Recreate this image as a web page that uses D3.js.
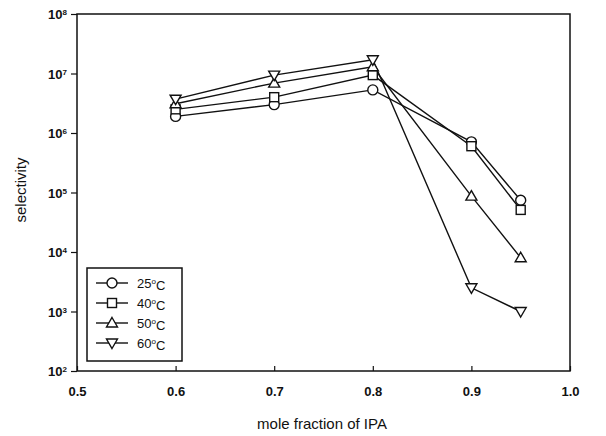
<!DOCTYPE html>
<html><head><meta charset="utf-8">
<script src="https://cdn.jsdelivr.net/npm/d3@7"></script>
<style>body{margin:0;background:#fff}svg{display:block}text{font-family:"Liberation Sans",Arial,sans-serif;fill:#111}</style>
</head><body><svg id="c" width="606" height="436"></svg>
<script>
const xValues = [0.6, 0.7, 0.8, 0.9, 0.95];
const seriesNames = ["25°C", "40°C", "50°C", "60°C"];
const s25 = [1.9e6, 3.0e6, 5.3e6, 7.1e5, 7.4e4];
const s40 = [2.5e6, 4.0e6, 9.4e6, 6.0e5, 5.1e4];
const s50 = [3.1e6, 6.9e6, 1.3e7, 8.7e4, 8.0e3];
const s60 = [3.7e6, 9.4e6, 1.7e7, 2.5e3, 1.0e3];
const xTicks = [0.5, 0.6, 0.7, 0.8, 0.9, 1.0];
const yExps = [2, 3, 4, 5, 6, 7, 8];
const markers = ["circle", "square", "triUp", "triDown"];

const svg = d3.select("#c");
const L = 77, R = 570, T = 14, B = 371;
const x = d3.scaleLinear().domain([0.5, 1.0]).range([L, R]);
const y = d3.scaleLog().domain([1e2, 1e8]).range([B, T]);

svg.append("rect").attr("x", L).attr("y", T).attr("width", R - L).attr("height", B - T)
  .attr("fill", "none").attr("stroke", "#111").attr("stroke-width", 1.5);

const xa = svg.append("g").attr("transform", `translate(0,${B})`)
  .call(d3.axisBottom(x).tickValues(xTicks).tickSize(-5).tickPadding(16).tickFormat(d3.format(".1f")));
xa.select(".domain").remove();
xa.selectAll("line").attr("stroke", "#111").attr("stroke-width", 1.2);
xa.selectAll("text").attr("font-size", 13).attr("font-weight", "bold").attr("fill", "#111");

const ya = svg.append("g").attr("transform", `translate(${L},0)`)
  .call(d3.axisLeft(y).tickValues(yExps.map(e => Math.pow(10, e))).tickSize(6).tickPadding(4).tickFormat(""));
ya.select(".domain").remove();
ya.selectAll("line").attr("stroke", "#111").attr("stroke-width", 1.2);
ya.selectAll(".tick").each(function(d) {
  const t = d3.select(this).append("text").attr("x", -10).attr("dy", "0.35em")
    .attr("text-anchor", "end").attr("font-size", 13).attr("font-weight", "bold").attr("fill", "#111");
  t.append("tspan").text("10");
  t.append("tspan").attr("dy", "-0.5em").attr("font-size", 8).text(Math.round(Math.log10(d)));
});

svg.append("text").attr("x", 322).attr("y", 429).attr("text-anchor", "middle")
  .attr("font-size", 15).text("mole fraction of IPA");
svg.append("text").attr("transform", "translate(26,190) rotate(-90)").attr("text-anchor", "middle")
  .attr("font-size", 15).text("selectivity");

function drawMarker(g, type, cx, cy) {
  const common = s => s.attr("fill", "#fff").attr("stroke", "#111").attr("stroke-width", 1.4);
  if (type === "circle") common(g.append("circle").attr("cx", cx).attr("cy", cy).attr("r", 5));
  else if (type === "square") common(g.append("rect").attr("x", cx - 4.5).attr("y", cy - 4.5).attr("width", 9).attr("height", 9));
  else if (type === "triUp") common(g.append("path").attr("d", `M${cx},${cy - 5.5}L${cx + 5.5},${cy + 4}L${cx - 5.5},${cy + 4}Z`));
  else common(g.append("path").attr("d", `M${cx},${cy + 5.5}L${cx + 5.5},${cy - 4}L${cx - 5.5},${cy - 4}Z`));
}

const allSeries = [s25, s40, s50, s60];
const line = d3.line().x((d, i) => x(xValues[i])).y(d => y(d));
allSeries.forEach(s => {
  svg.append("path").datum(s).attr("d", line).attr("fill", "none").attr("stroke", "#111").attr("stroke-width", 1.4);
});
allSeries.forEach((s, k) => {
  const g = svg.append("g");
  s.forEach((v, i) => drawMarker(g, markers[k], x(xValues[i]), y(v)));
});

const lg = svg.append("g");
lg.append("rect").attr("x", 87).attr("y", 268).attr("width", 95).attr("height", 93)
  .attr("fill", "#fff").attr("stroke", "#111").attr("stroke-width", 1.5);
seriesNames.forEach((n, k) => {
  const yy = 283 + k * 20;
  lg.append("line").attr("x1", 96).attr("x2", 128).attr("y1", yy).attr("y2", yy).attr("stroke", "#111").attr("stroke-width", 1.4);
  drawMarker(lg, markers[k], 112, yy);
  const t = lg.append("text").attr("x", 137).attr("y", yy).attr("dy", "0.35em").attr("font-size", 13);
  t.append("tspan").text(n.slice(0, 2));
  t.append("tspan").attr("dy", "-0.45em").attr("font-size", 8).text("o");
  t.append("tspan").attr("dy", "0.45em").text("C");
});
</script></body></html>
